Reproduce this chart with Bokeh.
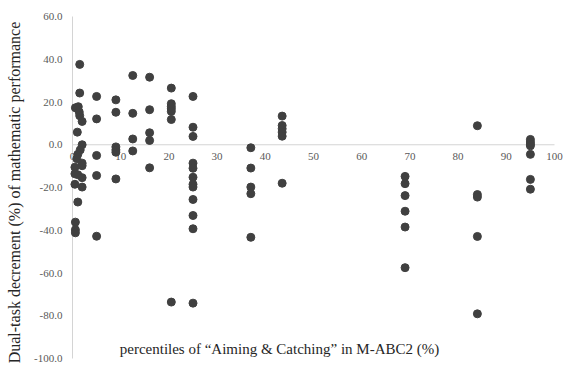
import math
from bokeh.plotting import figure
from bokeh.models import Label, ColumnDataSource
from bokeh.embed import file_html
from bokeh.resources import INLINE
from bokeh.core.properties import value

# percentile of "Aiming & Catching" (x) and dual-task decrement (y)
percentile = [
    1.5, 1.5, 0.6, 1.2, 1.4, 1.5, 2.0, 1.0, 2.0, 1.6, 1.1, 0.9, 2.0, 2.0, 0.5, 0.5, 1.1, 2.0, 0.5, 2.0, 1.1, 0.6, 0.6, 0.6,
    5, 5, 5, 5, 5,
    9, 9, 9, 9, 9, 9,
    12.5, 12.5, 12.5, 12.5,
    16, 16, 16, 16, 16,
    20.5, 20.5, 20.5, 20.5, 20.5, 20.5, 20.5,
    25, 25, 25, 25, 25, 25, 25, 25, 25, 25, 25, 25,
    37, 37, 37, 37, 37,
    43.5, 43.5, 43.5, 43.5, 43.5, 43.5,
    69, 69, 69, 69, 69, 69,
    84, 84, 84, 84, 84,
    95, 95, 95, 95, 95, 95, 95,
]
decrement = [
    37.6, 24.2, 17.3, 17.8, 15.3, 13.6, 10.9, 5.9, 0.0, -2.4, -4.5, -6.5, -8.6, -9.8, -10.5, -13.6, -14.0, -15.4, -18.5, -19.8, -26.8, -36.2, -39.8, -41.2,
    22.6, 12.1, -5.0, -14.4, -42.8,
    21.0, 15.2, -1.0, -2.4, -3.5, -16.0,
    32.4, 14.7, 2.7, -2.9,
    31.6, 16.4, 5.6, 2.0, -10.8,
    26.5, 19.2, 17.9, 16.8, 15.6, 11.8, -73.6,
    22.6, 8.2, 3.9, -8.6, -11.0, -15.2, -18.5, -19.8, -25.6, -33.1, -39.3, -74.1,
    -1.4, -10.9, -19.8, -22.9, -43.3,
    13.4, 9.0, 7.5, 5.9, 4.0, -18.0,
    -14.8, -18.2, -23.8, -31.1, -38.5, -57.5,
    8.9, -23.3, -24.5, -42.9, -79.1,
    2.5, 1.3, 0.3, -0.5, -4.5, -16.2, -20.8,
]
x_ticks = [0, 10, 20, 30, 40, 50, 60, 70, 80, 90, 100]
y_ticks = [60, 40, 20, 0, -20, -40, -60, -80, -100]

x_title = "percentiles of \u201cAiming & Catching\u201d in M-ABC2 (%)"
y_title = "Dual-task decrement (%) of mathematic performance"

FONT = "Liberation Serif"

# layout: the frame covers the whole canvas; ranges set the pixel mapping
W, H = 563, 374
X0_PX, X_SCALE = 72.0, 4.82      # pixel of x=0, pixels per unit
Y_TOP_PX, Y_SCALE = 16.0, 2.1375  # pixel of y=max tick, pixels per unit
x_start = -X0_PX / X_SCALE
x_end = x_start + W / X_SCALE
y_end = max(y_ticks) + Y_TOP_PX / Y_SCALE
y_start = y_end - H / Y_SCALE


def dx(px):
    return x_start + px / X_SCALE


def dy(py):
    return y_end - py / Y_SCALE


p = figure(width=W, height=H, output_backend="svg", toolbar_location=None,
           x_range=(x_start, x_end), y_range=(y_start, y_end),
           min_border_left=0, min_border_right=0, min_border_top=0, min_border_bottom=0)
p.outline_line_color = None
p.xgrid.visible = False
p.ygrid.visible = False
p.xaxis.visible = False
p.yaxis.visible = False
p.background_fill_color = "white"
p.border_fill_color = "white"

AX_COLOR = "#d4d4d4"
# axis lines crossing at the origin
p.line(x=[min(x_ticks), max(x_ticks)], y=[0, 0], line_color=AX_COLOR, line_width=1)
p.line(x=[0, 0], y=[min(y_ticks), max(y_ticks)], line_color=AX_COLOR, line_width=1)

# x tick labels just below the zero line
src_x = ColumnDataSource(dict(x=x_ticks, y=[0] * len(x_ticks), t=[str(v) for v in x_ticks]))
p.text(x="x", y="y", text="t", source=src_x, text_font=value(FONT), text_font_size="11px",
       text_color="#595959", text_align="center", text_baseline="top", y_offset=8)

# y tick labels left of the vertical axis
src_y = ColumnDataSource(dict(x=[0] * len(y_ticks), y=y_ticks, t=["%.1f" % v for v in y_ticks]))
p.text(x="x", y="y", text="t", source=src_y, text_font=value(FONT), text_font_size="11px",
       text_color="#595959", text_align="right", text_baseline="middle", x_offset=-10)

p.scatter(percentile, decrement, size=8, color="#404040", line_color="#404040")

p.add_layout(Label(x=dx(279), y=dy(348), text=x_title, text_font=FONT, text_font_size="15px",
                   text_color="#262626", text_align="center", text_baseline="middle"))
p.add_layout(Label(x=dx(14), y=dy(192), text=y_title, text_font=FONT, text_font_size="16px",
                   text_color="#262626", text_align="center", text_baseline="middle",
                   angle=math.pi / 2))

open("out.html", "w").write(file_html(p, INLINE))
